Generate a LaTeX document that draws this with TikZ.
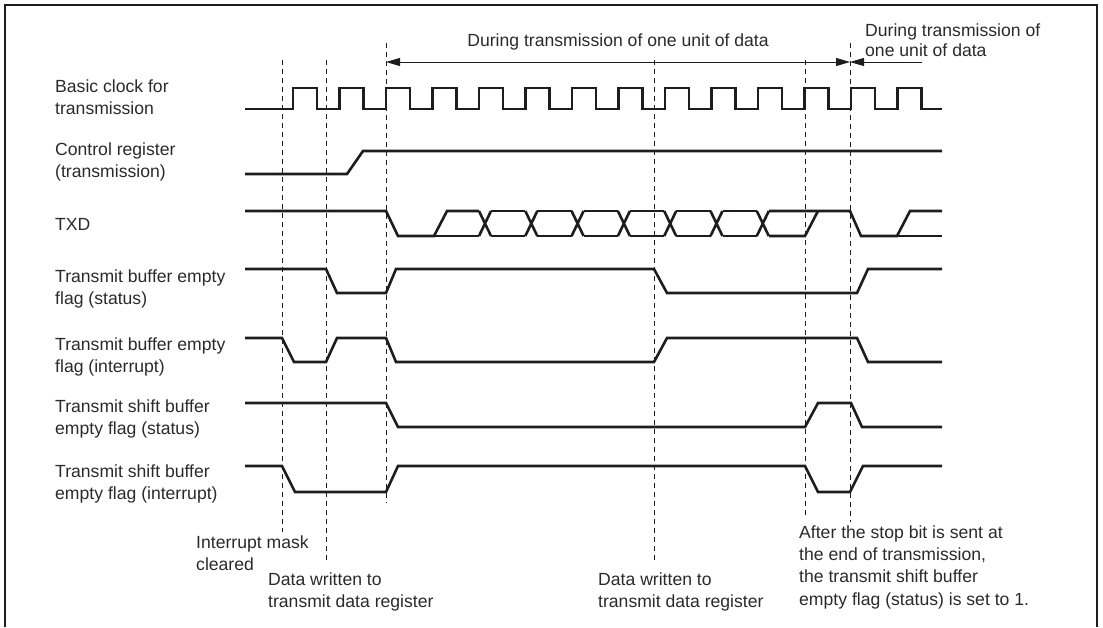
\documentclass[tikz,border=0pt]{standalone}
\usepackage{fontspec}
\setmainfont{Liberation Sans}
\usepackage{tikz}
\usetikzlibrary{arrows.meta}
\definecolor{tdink}{HTML}{1E1C1D}
\definecolor{tdtext}{HTML}{2A2A2A}

\begin{document}
\begin{tikzpicture}[x=1pt,y=-1pt,
    wave/.style={draw=tdink,line width=2.6pt},
    guide/.style={draw=tdink,line width=0.9pt,dash pattern=on 5pt off 4pt},
    span/.style={draw=tdink,line width=1pt},
    tip/.style={-{Triangle[length=14pt,width=8pt]}},
    lbl/.style={anchor=base west,inner sep=0pt,align=left,text=tdtext,font=\fontsize{17.6}{21.3}\selectfont}]
  \useasboundingbox (0,0) rectangle (1103,627);
  % frame
  \draw[tdink,line width=2.6pt] (5,627) -- (5,5) -- (1097,5) -- (1097,627);

  % event markers
  \foreach \n/\x/\t/\b in {1/282/60/532,2/326/60/562,3/386/43/503,4/654/60/563,5/805/60/517,6/850/43/522} {
    \coordinate (m\n t) at (\x,\t);
    \coordinate (m\n b) at (\x,\b);
    \draw[guide] (m\n t) -- (m\n b);
  }

  % transmission spans
  \coordinate (a1) at (386,62);
  \coordinate (a2) at (850,62);
  \coordinate (a3) at (922,62);
  \draw[span,{Triangle[length=14pt,width=8pt]}-{Triangle[length=14pt,width=8pt]}] (a1) -- (a2);
  \draw[span,tip] (a3) -- (a2);
  \node[lbl,anchor=base] (span1) at (618,46) {During transmission of one unit of data};
  \node[lbl,font=\fontsize{17.6}{19.3}\selectfont] (span2) at (865,56) {During transmission of\\one unit of data};

  % signal names (base = last line)
  \node[lbl] (clk) at (55,114) {Basic clock for\\transmission};
  \node[lbl] (ctl) at (55,177) {Control register\\(transmission)};
  \node[lbl] (txd) at (55,230) {TXD};
  \node[lbl] (tbes) at (55,304) {Transmit buffer empty\\flag (status)};
  \node[lbl] (tbei) at (55,372) {Transmit buffer empty\\flag (interrupt)};
  \node[lbl] (tsbs) at (55,434) {Transmit shift buffer\\empty flag (status)};
  \node[lbl] (tsbi) at (55,499) {Transmit shift buffer\\empty flag (interrupt)};

  % clock
  \draw[wave] (245,109) foreach \k in {0,...,13} {
      -- ({293+46.5*\k},109) -- ({293+46.5*\k},88) -- ({317+46.5*\k},88) -- ({317+46.5*\k},109)
    } -- (942,109);

  % control register
  \draw[wave] (245,174) -- (347,174) -- (363,151) -- (942,151);

  % TXD
  \draw[wave] (245,211) -- (386,211) -- (398,236) -- (434,236) -- (447,211) -- (479,211);
  \draw[wave] (434,236) -- (479,236);
  \foreach \i in {0,...,6} {
    \pgfmathsetmacro{\c}{485+46.3*\i}
    \draw[wave] (\c-6,211) -- (\c+6,236) (\c-6,236) -- (\c+6,211);
  }
  \foreach \i in {0,...,5} {
    \pgfmathsetmacro{\c}{485+46.3*\i}
    \draw[wave] (\c+6,211) -- (\c+40.3,211) (\c+6,236) -- (\c+40.3,236);
  }
  \draw[wave] (769,211) -- (850,211) -- (861,236) -- (897,236) -- (910,211) -- (942,211);
  \draw[wave] (769,236) -- (805,236) -- (818,211);
  \draw[wave] (897,236) -- (942,236);

  % transmit buffer empty flag (status)
  \draw[wave] (245,269) -- (326,269) -- (337,293) -- (386,293) -- (396,269) -- (654,269)
    -- (667,293) -- (857,293) -- (868,269) -- (942,269);
  % transmit buffer empty flag (interrupt)
  \draw[wave] (245,338) -- (282,338) -- (294,362) -- (326,362) -- (337,338) -- (386,338)
    -- (396,362) -- (654,362) -- (667,338) -- (857,338) -- (868,362) -- (942,362);
  % transmit shift buffer empty flag (status)
  \draw[wave] (245,403) -- (386,403) -- (398,427) -- (805,427) -- (818,403) -- (851,403)
    -- (862,427) -- (942,427);
  % transmit shift buffer empty flag (interrupt)
  \draw[wave] (245,466) -- (282,466) -- (295,492) -- (386,492) -- (398,466) -- (805,466)
    -- (818,492) -- (850,492) -- (863,466) -- (942,466);

  % notes (base = last line)
  \node[lbl,font=\fontsize{17.6}{22}\selectfont] (imc) at (196,570) {Interrupt mask\\cleared};
  \node[lbl,font=\fontsize{17.6}{22}\selectfont] (dw1) at (268,607) {Data written to\\transmit data register};
  \node[lbl,font=\fontsize{17.6}{22}\selectfont] (dw2) at (598,607) {Data written to\\transmit data register};
  \node[lbl,font=\fontsize{17.6}{22.3}\selectfont] (stop) at (799,605) {After the stop bit is sent at\\the end of transmission,\\the transmit shift buffer\\empty flag (status) is set to 1.};
\end{tikzpicture}
\end{document}
